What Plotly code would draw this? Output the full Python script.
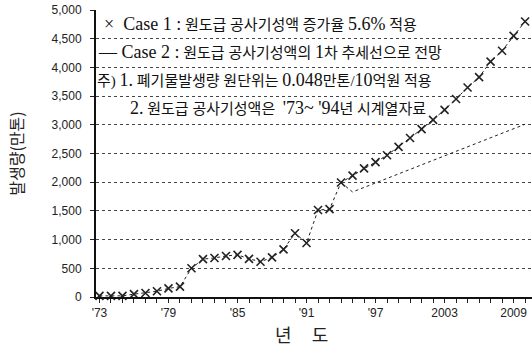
import plotly.graph_objects as go

years1 = list(range(1973, 2011))
case1 = [20, 20, 20, 50, 70, 100, 150, 180, 500, 660, 680, 715, 735, 665, 615, 690,
         830, 1110, 940, 1515, 1530, 1995, 2115, 2240, 2350, 2470, 2615, 2770, 2925,
         3085, 3260, 3450, 3650, 3830, 4100, 4290, 4550, 4800]

years2 = [1994, 1995, 2010]
case2 = [1995, 1830, 3010]

xtick_vals = [1973, 1979, 1985, 1991, 1997, 2003, 2009]
xtick_text = ["'73", "'79", "'85", "'91", "'97", "2003", "2009"]
ytick_vals = [0, 500, 1000, 1500, 2000, 2500, 3000, 3500, 4000, 4500, 5000]
ytick_text = ["0", "500", "1,000", "1,500", "2,000", "2,500", "3,000", "3,500", "4,000", "4,500", "5,000"]

L = '<span style="font-size:18px">'
E = '</span>'
notes = [
    (f"{L}×  Case 1 :{E} 원도급 공사기성액 증가율 {L}5.6%{E} 적용", 4756, 0.014),
    (f"{L}— Case 2 :{E} 원도급 공사기성액의 {L}1{E}차 추세선으로 전망", 4268, 0.0),
    (f"주) {L}1.{E} 폐기물발생량 원단위는 {L}0.048{E}만톤/{L}10{E}억원 적용", 3780, -0.002),
    (f"{L}2.{E} 원도급 공사기성액은  {L}'73~ '94{E}년 시계열자료", 3290, 0.074),
]

fig = go.Figure()
fig.add_trace(go.Scatter(
    x=years2, y=case2, mode="lines",
    line=dict(color="#222", width=1, dash="dot"),
    showlegend=False, cliponaxis=False))
fig.add_trace(go.Scatter(
    x=years1, y=case1, mode="lines+markers",
    line=dict(color="#222", width=1, dash="dot"),
    marker=dict(symbol="x-thin-open", size=8, line=dict(color="#111", width=1.6)),
    showlegend=False, cliponaxis=False))

for text, yv, xv in notes:
    fig.add_annotation(x=xv, y=yv, xref="paper", yref="y", text=text, showarrow=False,
                       xanchor="left", yanchor="middle",
                       font=dict(family="Liberation Serif, Noto Sans CJK KR", size=15, color="#111"))

fig.add_annotation(x=0.472, y=-0.13, xref="paper", yref="paper", text="년     도",
                   showarrow=False, xanchor="center", yanchor="middle",
                   font=dict(family="Noto Sans CJK KR", size=18, color="#222"))

fig.update_layout(
    width=532, height=348,
    margin=dict(l=96, r=0, t=10, b=51),
    paper_bgcolor="white", plot_bgcolor="white",
    xaxis=dict(range=[1972.7, 2010.6], tickvals=xtick_vals, ticktext=xtick_text,
               ticks="outside", ticklen=4, tickcolor="#222",
               minor=dict(dtick=1, tick0=1973, ticks="outside", ticklen=4, tickcolor="#222"),
               showgrid=False, zeroline=False,
               showline=True, linecolor="#111", linewidth=2,
               tickfont=dict(family="Liberation Sans", size=12, color="#222")),
    yaxis=dict(range=[0, 5000], tickvals=ytick_vals, ticktext=ytick_text,
               ticks="outside", ticklen=4, tickcolor="#222", ticklabelstandoff=6,
               showgrid=True, gridcolor="#444", griddash="dot", gridwidth=1,
               zeroline=False, showline=True, linecolor="#111", linewidth=2,
               tickfont=dict(family="Liberation Sans", size=12, color="#222"),
               title=dict(text="발생량(만톤)", font=dict(family="Noto Sans CJK KR", size=16, color="#222"),
                          standoff=24)),
)
fig.write_html("out.html", config={"displayModeBar": False},
               post_script="document.body.style.margin='0';")
